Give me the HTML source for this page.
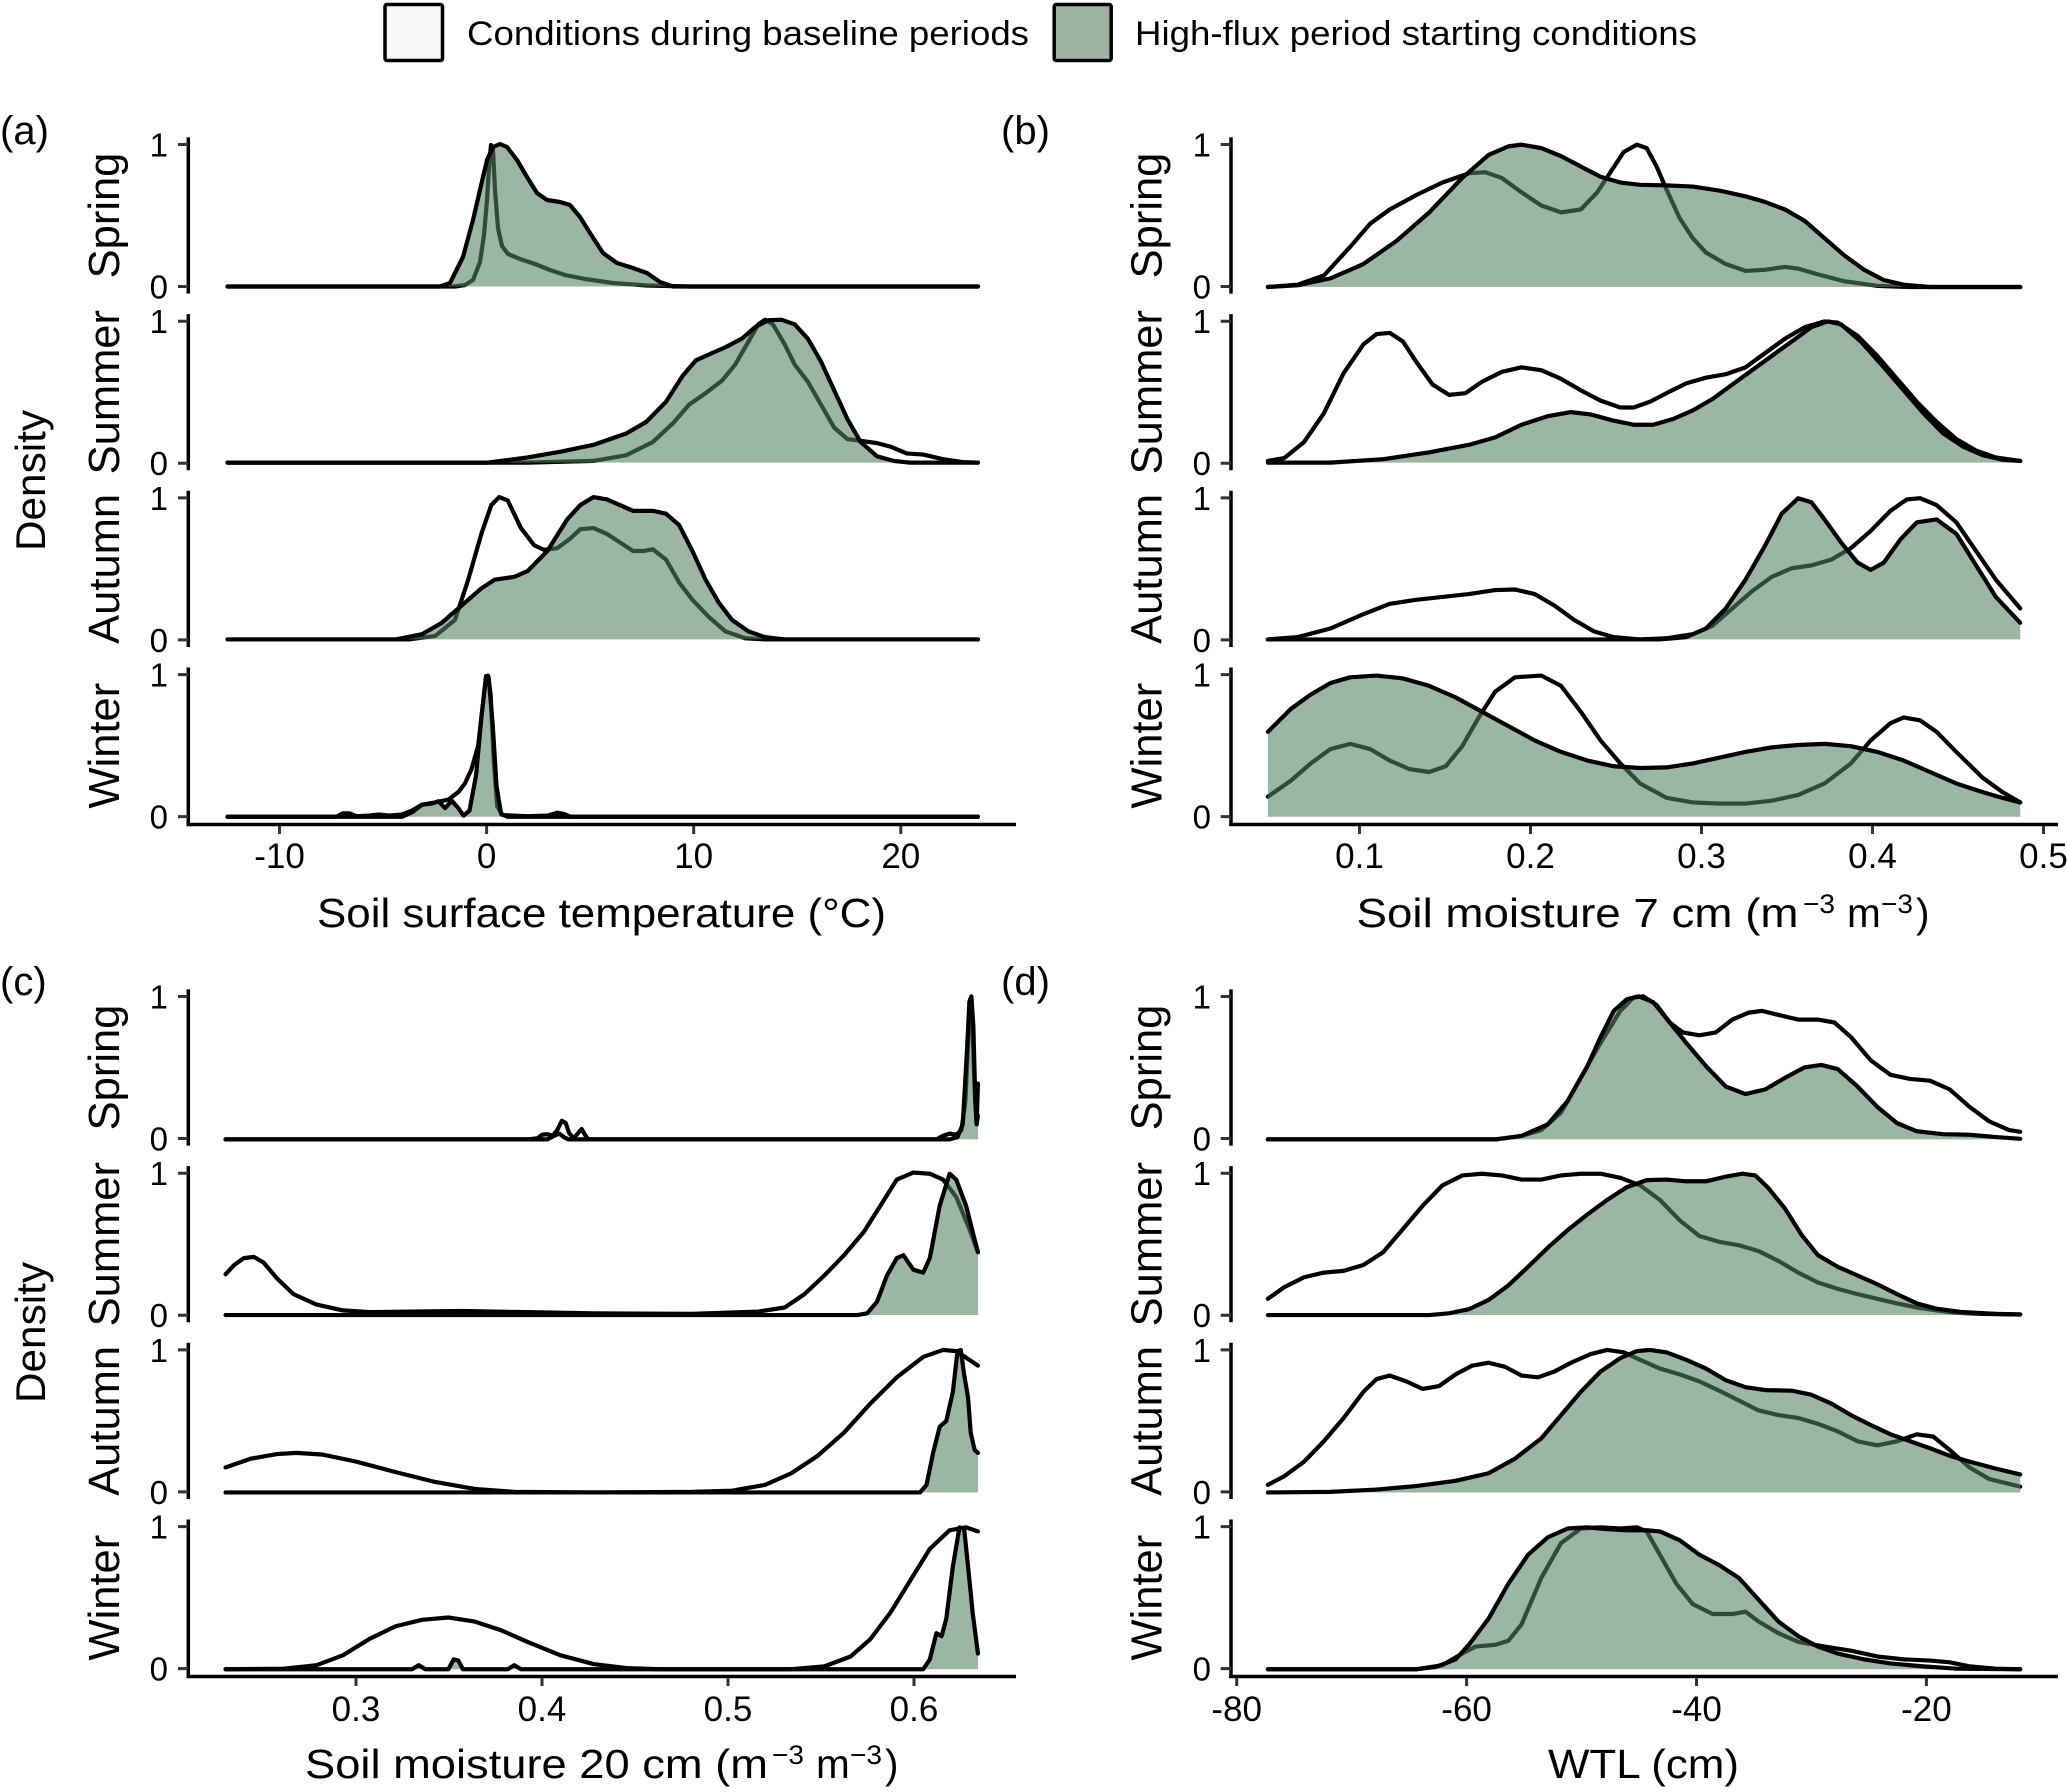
<!DOCTYPE html>
<html><head><meta charset="utf-8"><style>
html,body{margin:0;padding:0;background:#fff}
svg{display:block}
text{font-family:"Liberation Sans",Arial,sans-serif;fill:#000}
.c{fill:none;stroke:#000;stroke-width:4.2;stroke-linejoin:round;stroke-linecap:round;vector-effect:non-scaling-stroke}
.f{fill:rgb(84,130,98);fill-opacity:.58;stroke:none}
.ax{stroke:#000;stroke-width:3.5;fill:none}
.tk{stroke:#333;stroke-width:3;fill:none}
.yt{font-size:33px;text-anchor:end}
.xt{font-size:35px;text-anchor:middle}
.st{font-size:43.5px;text-anchor:middle}
</style></head><body>
<svg width="2067" height="1792" viewBox="0 0 2067 1792" xmlns="http://www.w3.org/2000/svg">
<rect width="2067" height="1792" fill="#fff"/>

<!-- Legend -->
<rect x="385" y="4.5" width="57.5" height="56" fill="#f7f7f7" stroke="#000" stroke-width="3.5" rx="2"/>
<text x="467" y="45" font-size="34" textLength="562" lengthAdjust="spacingAndGlyphs">Conditions during baseline periods</text>
<rect x="1054.2" y="4.5" width="57" height="56" fill="rgb(155,181,162)" stroke="#000" stroke-width="3.5" rx="2"/>
<text x="1135" y="45" font-size="34" textLength="562" lengthAdjust="spacingAndGlyphs">High-flux period starting conditions</text>

<!-- Panel labels -->
<text x="0" y="144" font-size="40">(a)</text>
<text x="1001" y="144" font-size="40">(b)</text>
<text x="0" y="995" font-size="40">(c)</text>
<text x="1001" y="995" font-size="40">(d)</text>

<!-- Density labels -->
<text transform="translate(45,480.5) rotate(-90)" font-size="42" text-anchor="middle" textLength="141" lengthAdjust="spacingAndGlyphs">Density</text>
<text transform="translate(45,1332.5) rotate(-90)" font-size="42" text-anchor="middle" textLength="141" lengthAdjust="spacingAndGlyphs">Density</text>

<!-- Strip labels left -->
<text class="st" transform="translate(119,215.5) rotate(-90)">Spring</text>
<text class="st" transform="translate(119,392.2) rotate(-90)">Summer</text>
<text class="st" transform="translate(119,568.9) rotate(-90)">Autumn</text>
<text class="st" transform="translate(119,745.6) rotate(-90)">Winter</text>
<text class="st" transform="translate(119,1067.5) rotate(-90)">Spring</text>
<text class="st" transform="translate(119,1244.2) rotate(-90)">Summer</text>
<text class="st" transform="translate(119,1420.9) rotate(-90)">Autumn</text>
<text class="st" transform="translate(119,1597.6) rotate(-90)">Winter</text>
<!-- Strip labels right -->
<text class="st" transform="translate(1161.5,215.5) rotate(-90)">Spring</text>
<text class="st" transform="translate(1161.5,392.2) rotate(-90)">Summer</text>
<text class="st" transform="translate(1161.5,568.9) rotate(-90)">Autumn</text>
<text class="st" transform="translate(1161.5,745.6) rotate(-90)">Winter</text>
<text class="st" transform="translate(1161.5,1067.5) rotate(-90)">Spring</text>
<text class="st" transform="translate(1161.5,1244.2) rotate(-90)">Summer</text>
<text class="st" transform="translate(1161.5,1420.9) rotate(-90)">Autumn</text>
<text class="st" transform="translate(1161.5,1597.6) rotate(-90)">Winter</text>

<!-- Y axes -->
<path class="ax" d="M188.3,137.4V293.6M188.3,314.1V470.3M188.3,490.8V647M188.3,667.5V826M188.3,989.4V1145.6M188.3,1166.1V1322.3M188.3,1342.8V1499M188.3,1519.5V1678
M1231,137.4V293.6M1231,314.1V470.3M1231,490.8V647M1231,667.5V826M1231,989.4V1145.6M1231,1166.1V1322.3M1231,1342.8V1499M1231,1519.5V1678"/>
<!-- Y ticks -->
<path class="tk" d="M178,144.5H188M178,286.5H188M178,321.2H188M178,463.2H188M178,497.9H188M178,639.9H188M178,674.6H188M178,816.6H188
M178,996.5H188M178,1138.5H188M178,1173.2H188M178,1315.2H188M178,1349.9H188M178,1491.9H188M178,1526.6H188M178,1668.6H188
M1220.7,144.5H1231M1220.7,286.5H1231M1220.7,321.2H1231M1220.7,463.2H1231M1220.7,497.9H1231M1220.7,639.9H1231M1220.7,674.6H1231M1220.7,816.6H1231
M1220.7,996.5H1231M1220.7,1138.5H1231M1220.7,1173.2H1231M1220.7,1315.2H1231M1220.7,1349.9H1231M1220.7,1491.9H1231M1220.7,1526.6H1231M1220.7,1668.6H1231"/>
<!-- X axes -->
<path class="ax" d="M186.5,824.5H1016M1229.2,824.5H2058M186.5,1676.5H1016M1229.2,1676.5H2058"/>
<path class="tk" d="M279.5,826V834M486.6,826V834M693.7,826V834M900.8,826V834
M1359.5,826V834M1530.5,826V834M1701.5,826V834M1872.5,826V834M2043.5,826V834
M356,1678V1686M542,1678V1686M728,1678V1686M914,1678V1686
M1236.7,1678V1686M1466.6,1678V1686M1696.5,1678V1686M1926.4,1678V1686"/>

<!-- Y tick labels -->
<g class="yt">
<text x="168" y="156.5">1</text><text x="168" y="298.5">0</text>
<text x="168" y="333.2">1</text><text x="168" y="475.2">0</text>
<text x="168" y="509.9">1</text><text x="168" y="651.9">0</text>
<text x="168" y="686.6">1</text><text x="168" y="828.6">0</text>
<text x="168" y="1008.5">1</text><text x="168" y="1150.5">0</text>
<text x="168" y="1185.2">1</text><text x="168" y="1327.2">0</text>
<text x="168" y="1361.9">1</text><text x="168" y="1503.9">0</text>
<text x="168" y="1538.6">1</text><text x="168" y="1680.6">0</text>
<text x="1211" y="156.5">1</text><text x="1211" y="298.5">0</text>
<text x="1211" y="333.2">1</text><text x="1211" y="475.2">0</text>
<text x="1211" y="509.9">1</text><text x="1211" y="651.9">0</text>
<text x="1211" y="686.6">1</text><text x="1211" y="828.6">0</text>
<text x="1211" y="1008.5">1</text><text x="1211" y="1150.5">0</text>
<text x="1211" y="1185.2">1</text><text x="1211" y="1327.2">0</text>
<text x="1211" y="1361.9">1</text><text x="1211" y="1503.9">0</text>
<text x="1211" y="1538.6">1</text><text x="1211" y="1680.6">0</text>
</g>
<!-- X tick labels -->
<g class="xt">
<text x="279.5" y="868">-10</text><text x="486.6" y="868">0</text><text x="693.7" y="868">10</text><text x="900.8" y="868">20</text>
<text x="1359.5" y="868">0.1</text><text x="1530.5" y="868">0.2</text><text x="1701.5" y="868">0.3</text><text x="1872.5" y="868">0.4</text><text x="2043.5" y="868">0.5</text>
<text x="356" y="1721">0.3</text><text x="542" y="1721">0.4</text><text x="728" y="1721">0.5</text><text x="914" y="1721">0.6</text>
<text x="1236.7" y="1721">-80</text><text x="1466.6" y="1721">-60</text><text x="1696.5" y="1721">-40</text><text x="1926.4" y="1721">-20</text>
</g>

<!-- Axis titles -->
<text x="317" y="927" font-size="40.5" textLength="569" lengthAdjust="spacingAndGlyphs">Soil surface temperature (°C)</text>

<text x="1356.5" y="927" font-size="40.5" textLength="442" lengthAdjust="spacingAndGlyphs">Soil moisture 7 cm (m</text>
<text x="1803" y="913" font-size="27" textLength="32" lengthAdjust="spacingAndGlyphs">−3</text>
<text x="1847" y="927" font-size="40.5">m</text>
<text x="1881" y="913" font-size="27" textLength="32" lengthAdjust="spacingAndGlyphs">−3</text>
<text x="1916" y="927" font-size="40.5">)</text>

<text x="305" y="1778" font-size="40.5" textLength="463" lengthAdjust="spacingAndGlyphs">Soil moisture 20 cm (m</text>
<text x="772" y="1764" font-size="27" textLength="32" lengthAdjust="spacingAndGlyphs">−3</text>
<text x="816" y="1778" font-size="40.5">m</text>
<text x="850" y="1764" font-size="27" textLength="32" lengthAdjust="spacingAndGlyphs">−3</text>
<text x="885" y="1778" font-size="40.5">)</text>

<text x="1548" y="1778" font-size="40.5" textLength="191" lengthAdjust="spacingAndGlyphs">WTL (cm)</text>

<!-- ===== Panel (a) ===== -->
<!-- Spring (orig coords) -->
<path class="c" d="M227.5,286.5 L455,286.5 L465,285 L473,280 L480,262 L484,235 L487,200 L489.5,160 L491,145 L493,150 L495,190 L498,228 L502,246 L508,254 L520,259 L535,264 L550,270 L565,275 L585,279 L613,283 L647,285.5 L690,286.5 L978,286.5"/>
<path class="f" d="M227.5,286.5 L440,286.5 L450,283 L463,257 L473,220 L480,190 L487,160 L493,147 L500,144 L507,147 L517,160 L527,177 L537,193 L547,200 L560,202 L570,205 L580,217 L590,233 L603,253 L617,263 L633,268 L647,273 L660,282 L673,286.5 L978,286.5 Z"/>
<path class="c" d="M227.5,286.5 L440,286.5 L450,283 L463,257 L473,220 L480,190 L487,160 L493,147 L500,144 L507,147 L517,160 L527,177 L537,193 L547,200 L560,202 L570,205 L580,217 L590,233 L603,253 L617,263 L633,268 L647,273 L660,282 L673,286.5 L978,286.5"/>

<g transform="matrix(0.65944,0,0,0.57398,0,0)">
<!-- Summer -->
<path class="c" d="M345,806 L800,806 L900,803 L950,793 L990,770 L1020,738 L1045,705 L1070,685 L1095,663 L1115,635 L1135,595 L1150,565 L1160,557 L1172,565 L1190,600 L1205,635 L1225,665 L1245,705 L1265,745 L1285,765 L1305,768 L1330,772 L1350,778 L1375,790 L1400,792 L1430,800 L1460,805 L1483,806"/>
<path class="f" d="M345,806 L740,806 L800,797 L850,787 L900,775 L950,755 L980,735 L1010,700 L1035,655 L1055,628 L1080,615 L1100,605 L1125,590 L1145,570 L1165,558 L1185,557 L1205,565 L1225,590 L1245,630 L1265,680 L1285,730 L1305,770 L1330,795 L1355,803 L1380,806 L1483,806 Z"/>
<path class="c" d="M345,806 L740,806 L800,797 L850,787 L900,775 L950,755 L980,735 L1010,700 L1035,655 L1055,628 L1080,615 L1100,605 L1125,590 L1145,570 L1165,558 L1185,557 L1205,565 L1225,590 L1245,630 L1265,680 L1285,730 L1305,770 L1330,795 L1355,803 L1380,806 L1483,806"/>
<!-- Autumn -->
<path class="c" d="M345,1114 L620,1114 L660,1108 L690,1080 L710,1010 L730,930 L745,880 L757,866 L770,872 L790,920 L810,950 L825,958 L845,955 L865,938 L880,922 L900,920 L920,930 L940,945 L960,960 L975,960 L990,957 L1010,975 L1030,1015 L1050,1045 L1075,1075 L1100,1100 L1130,1112 L1160,1114 L1483,1114"/>
<path class="f" d="M345,1114 L600,1114 L640,1105 L670,1085 L700,1055 L730,1025 L750,1010 L780,1005 L800,995 L830,960 L860,905 L880,880 L900,866 L920,870 L940,880 L960,890 L990,890 L1010,895 L1030,915 L1050,960 L1070,1010 L1090,1050 L1110,1080 L1135,1100 L1160,1110 L1190,1114 L1483,1114 Z"/>
<path class="c" d="M345,1114 L600,1114 L640,1105 L670,1085 L700,1055 L730,1025 L750,1010 L780,1005 L800,995 L830,960 L860,905 L880,880 L900,866 L920,870 L940,880 L960,890 L990,890 L1010,895 L1030,915 L1050,960 L1070,1010 L1090,1050 L1110,1080 L1135,1100 L1160,1110 L1190,1114 L1483,1114"/>
<!-- Winter -->
<path class="c" d="M345,1423 L510,1423 L520,1417 L530,1417 L540,1422 L560,1421 L575,1419 L590,1421 L610,1419 L625,1412 L640,1402 L660,1398 L680,1393 L695,1380 L705,1365 L715,1340 L725,1300 L732,1230 L737,1180 L740,1177 L744,1210 L749,1330 L754,1405 L762,1420 L800,1422 L830,1421 L845,1416 L855,1418 L865,1423 L1483,1423"/>
<path class="f" d="M345,1423 L610,1423 L625,1415 L640,1402 L655,1400 L665,1396 L675,1408 L685,1395 L695,1408 L703,1421 L712,1412 L722,1350 L730,1250 L737,1178 L741,1180 L747,1260 L753,1370 L760,1418 L770,1423 L1483,1423 Z"/>
<path class="c" d="M345,1423 L610,1423 L625,1415 L640,1402 L655,1400 L665,1396 L675,1408 L685,1395 L695,1408 L703,1421 L712,1412 L722,1350 L730,1250 L737,1178 L741,1180 L747,1260 L753,1370 L760,1418 L770,1423 L1483,1423"/>
</g>

<!-- ===== Panel (b) ===== -->
<g transform="matrix(0.6588,0,0,0.57398,1034,0)">
<!-- Spring -->
<path class="c" d="M355,500 L400,496 L440,480 L480,430 L510,390 L540,365 L580,340 L620,318 L660,302 L685,300 L710,310 L740,335 L770,358 L800,370 L830,365 L855,335 L875,300 L895,265 L915,252 L930,258 L945,290 L960,330 L980,380 L1000,415 L1020,440 L1050,460 L1080,472 L1110,470 L1140,465 L1160,468 L1190,478 L1230,490 L1280,498 L1330,500 L1497,500"/>
<path class="f" d="M355,500 L400,497 L450,485 L500,460 L550,420 L600,370 L650,310 L690,270 L720,255 L740,252 L770,258 L800,272 L830,290 L860,308 L890,318 L920,322 L960,323 L1000,325 L1040,332 L1080,342 L1110,352 L1140,365 L1170,385 L1200,415 L1230,445 L1260,470 L1290,488 L1320,496 L1360,500 L1497,500 Z"/>
<path class="c" d="M355,500 L400,497 L450,485 L500,460 L550,420 L600,370 L650,310 L690,270 L720,255 L740,252 L770,258 L800,272 L830,290 L860,308 L890,318 L920,322 L960,323 L1000,325 L1040,332 L1080,342 L1110,352 L1140,365 L1170,385 L1200,415 L1230,445 L1260,470 L1290,488 L1320,496 L1360,500 L1497,500"/>
<!-- Summer -->
<path class="c" d="M355,803 L380,798 L410,770 L440,720 L470,650 L500,600 L520,582 L540,580 L560,595 L580,630 L605,670 L630,688 L655,685 L680,665 L710,648 L740,640 L770,645 L800,660 L830,680 L860,698 L890,710 L910,710 L935,700 L960,685 L990,668 L1020,658 L1050,652 L1080,640 L1110,615 L1140,590 L1170,570 L1200,560 L1220,562 L1250,585 L1280,620 L1310,660 L1340,700 L1370,735 L1400,765 L1430,785 L1460,797 L1497,803"/>
<path class="f" d="M355,806 L450,806 L530,800 L600,788 L660,775 L700,762 L740,740 L780,725 L815,718 L845,722 L880,733 L910,740 L940,740 L970,730 L1000,715 L1030,695 L1060,670 L1090,645 L1120,620 L1150,595 L1180,570 L1205,560 L1225,565 L1255,595 L1290,640 L1320,680 L1350,720 L1380,755 L1410,778 L1440,793 L1470,801 L1497,803 L1497,806 Z"/>
<path class="c" d="M355,806 L450,806 L530,800 L600,788 L660,775 L700,762 L740,740 L780,725 L815,718 L845,722 L880,733 L910,740 L940,740 L970,730 L1000,715 L1030,695 L1060,670 L1090,645 L1120,620 L1150,595 L1180,570 L1205,560 L1225,565 L1255,595 L1290,640 L1320,680 L1350,720 L1380,755 L1410,778 L1440,793 L1470,801 L1497,803"/>
<!-- Autumn -->
<path class="c" d="M355,1114 L400,1110 L450,1095 L500,1070 L540,1052 L580,1045 L620,1040 L660,1035 L700,1028 L730,1027 L760,1035 L790,1055 L820,1080 L850,1100 L880,1110 L920,1114 L960,1112 L1000,1105 L1030,1090 L1060,1060 L1090,1030 L1120,1005 L1150,990 L1180,985 L1210,975 L1240,955 L1270,925 L1300,890 L1325,870 L1345,868 L1370,880 L1400,910 L1430,960 L1460,1010 L1497,1060"/>
<path class="f" d="M355,1114 L950,1114 L990,1110 L1020,1095 L1050,1060 L1080,1010 L1110,950 L1135,895 L1160,868 L1180,875 L1200,905 L1225,945 L1250,980 L1270,993 L1290,980 L1315,940 L1340,910 L1370,905 L1400,930 L1430,985 L1460,1040 L1497,1085 L1497,1114 Z"/>
<path class="c" d="M355,1114 L950,1114 L990,1110 L1020,1095 L1050,1060 L1080,1010 L1110,950 L1135,895 L1160,868 L1180,875 L1200,905 L1225,945 L1250,980 L1270,993 L1290,980 L1315,940 L1340,910 L1370,905 L1400,930 L1430,985 L1460,1040 L1497,1085"/>
<!-- Winter -->
<path class="c" d="M355,1388 L390,1360 L420,1330 L450,1305 L480,1296 L510,1305 L540,1325 L570,1340 L600,1345 L625,1335 L650,1300 L675,1250 L700,1205 L730,1180 L770,1177 L800,1195 L830,1240 L860,1290 L890,1330 L920,1365 L960,1390 L1000,1398 L1040,1400 L1080,1400 L1120,1395 L1160,1385 L1200,1365 L1240,1330 L1270,1290 L1300,1260 L1320,1250 L1345,1255 L1370,1275 L1400,1310 L1440,1355 L1470,1380 L1497,1398"/>
<path class="f" d="M355,1423 L355,1275 L390,1235 L420,1210 L450,1190 L480,1180 L520,1177 L560,1182 L600,1195 L640,1215 L680,1240 L720,1265 L760,1290 L800,1310 L840,1325 L880,1335 L920,1338 L960,1337 L1000,1330 L1040,1320 L1080,1310 L1120,1302 L1160,1298 L1200,1296 L1240,1300 L1280,1310 L1320,1325 L1360,1345 L1400,1365 L1440,1380 L1470,1390 L1497,1398 L1497,1423 Z"/>
<path class="c" d="M355,1275 L390,1235 L420,1210 L450,1190 L480,1180 L520,1177 L560,1182 L600,1195 L640,1215 L680,1240 L720,1265 L760,1290 L800,1310 L840,1325 L880,1335 L920,1338 L960,1337 L1000,1330 L1040,1320 L1080,1310 L1120,1302 L1160,1298 L1200,1296 L1240,1300 L1280,1310 L1320,1325 L1360,1345 L1400,1365 L1440,1380 L1470,1390 L1497,1398"/>
</g>

<!-- ===== Panel (c) ===== -->
<g transform="matrix(0.65944,0,0,0.58163,0,880)">
<!-- Spring -->
<path class="c" d="M342,446 L800,446 L815,444 L822,438 L830,437 L838,440 L845,430 L852,414 L858,418 L863,435 L870,444 L876,436 L882,428 L887,438 L892,446 L1420,446 L1430,440 L1440,436 L1450,438 L1458,430 L1464,380 L1468,280 L1471,205 L1474,230 L1478,360 L1481,420 L1483,405"/>
<path class="f" d="M342,446 L1440,446 L1452,442 L1460,420 L1466,300 L1470,210 L1473,200 L1476,250 L1479,380 L1481,420 L1483,350 L1483,446 Z"/>
<path class="c" d="M342,446 L830,446 L840,440 L848,436 L855,442 L862,446 L1440,446 L1452,442 L1460,420 L1466,300 L1470,210 L1473,200 L1476,250 L1479,380 L1481,420 L1483,350"/>
<!-- Summer -->
<path class="c" d="M342,678 L355,662 L370,650 L385,648 L400,658 L420,685 L445,712 L480,730 L520,740 L560,743 L700,741 L800,743 L900,745 L1050,746 L1150,742 L1190,735 L1220,712 L1250,680 L1280,645 L1310,605 L1335,560 L1360,515 L1385,503 L1410,505 L1430,515 L1450,545 L1470,600 L1483,640"/>
<path class="f" d="M342,748 L1300,748 L1315,745 L1330,725 L1345,680 L1360,650 L1370,645 L1385,670 L1400,675 L1410,650 L1425,560 L1440,505 L1450,515 L1465,560 L1475,605 L1483,640 L1483,748 Z"/>
<path class="c" d="M342,748 L1300,748 L1315,745 L1330,725 L1345,680 L1360,650 L1370,645 L1385,670 L1400,675 L1410,650 L1425,560 L1440,505 L1450,515 L1465,560 L1475,605 L1483,640"/>
<!-- Autumn -->
<path class="c" d="M342,1010 L380,995 L420,987 L450,985 L490,988 L540,1000 L600,1018 L660,1035 L720,1047 L780,1052 L900,1053 L1050,1052 L1110,1050 L1160,1040 L1200,1020 L1240,990 L1280,950 L1320,900 L1360,855 L1400,820 L1430,808 L1450,810 L1470,825 L1483,835"/>
<path class="f" d="M342,1053 L1395,1053 L1405,1040 L1415,985 L1425,940 L1435,930 L1445,880 L1452,810 L1457,808 L1462,850 L1468,890 L1472,950 L1478,980 L1483,985 L1483,1053 Z"/>
<path class="c" d="M342,1053 L1395,1053 L1405,1040 L1415,985 L1425,940 L1435,930 L1445,880 L1452,810 L1457,808 L1462,850 L1468,890 L1472,950 L1478,980 L1483,985"/>
<!-- Winter -->
<path class="c" d="M342,1357 L430,1356 L480,1350 L520,1333 L560,1305 L600,1283 L640,1272 L680,1268 L720,1275 L760,1290 L800,1310 L850,1333 L900,1348 L950,1355 L1000,1357 L1200,1357 L1250,1352 L1290,1335 L1320,1305 L1350,1260 L1380,1205 L1410,1150 L1440,1118 L1465,1113 L1483,1120"/>
<path class="f" d="M342,1357 L625,1357 L635,1350 L645,1357 L680,1357 L688,1340 L695,1342 L702,1357 L770,1357 L780,1350 L790,1357 L1400,1357 L1410,1340 L1420,1295 L1428,1300 L1435,1270 L1445,1180 L1455,1113 L1462,1115 L1468,1180 L1475,1260 L1483,1330 L1483,1357 Z"/>
<path class="c" d="M342,1357 L625,1357 L635,1350 L645,1357 L680,1357 L688,1340 L695,1342 L702,1357 L770,1357 L780,1350 L790,1357 L1400,1357 L1410,1340 L1420,1295 L1428,1300 L1435,1270 L1445,1180 L1455,1113 L1462,1115 L1468,1180 L1475,1260 L1483,1330"/>
</g>

<!-- ===== Panel (d) ===== -->
<g transform="matrix(0.6588,0,0,0.58163,1034,880)">
<!-- Spring -->
<path class="c" d="M355,446 L700,446 L740,440 L770,430 L800,400 L830,340 L860,280 L890,225 L910,202 L925,200 L945,215 L965,245 L985,262 L1010,267 L1035,262 L1060,240 L1085,228 L1105,225 L1130,232 L1160,240 L1190,240 L1215,245 L1240,270 L1270,310 L1300,335 L1330,342 L1360,345 L1390,360 L1420,390 L1450,415 L1480,430 L1497,433"/>
<path class="f" d="M355,446 L700,446 L740,440 L780,420 L810,380 L840,320 L860,270 L880,225 L900,205 L918,200 L940,210 L965,245 L990,280 L1020,320 L1050,355 L1080,368 L1110,360 L1140,340 L1170,322 L1195,318 L1220,325 L1250,355 L1280,390 L1310,418 L1340,432 L1380,437 L1420,438 L1460,442 L1497,445 L1497,446 Z"/>
<path class="c" d="M355,446 L700,446 L740,440 L780,420 L810,380 L840,320 L860,270 L880,225 L900,205 L918,200 L940,210 L965,245 L990,280 L1020,320 L1050,355 L1080,368 L1110,360 L1140,340 L1170,322 L1195,318 L1220,325 L1250,355 L1280,390 L1310,418 L1340,432 L1380,437 L1420,438 L1460,442 L1497,445"/>
<!-- Summer -->
<path class="c" d="M355,720 L380,700 L410,683 L440,675 L470,672 L500,662 L530,640 L560,600 L590,560 L620,525 L650,508 L680,505 L710,508 L740,515 L770,515 L800,508 L830,505 L860,505 L890,512 L920,525 L950,550 L980,585 L1010,612 L1040,622 L1070,628 L1100,638 L1130,655 L1160,675 L1190,692 L1220,703 L1250,712 L1280,720 L1310,728 L1340,735 L1370,740 L1400,744 L1440,746 L1497,747"/>
<path class="f" d="M355,748 L600,748 L630,745 L660,738 L690,722 L720,697 L750,665 L780,632 L810,602 L840,575 L870,550 L900,528 L930,516 L960,515 L990,518 L1020,518 L1050,510 L1075,505 L1095,508 L1115,530 L1140,565 L1165,610 L1190,645 L1220,665 L1250,680 L1280,695 L1310,712 L1340,728 L1370,737 L1410,743 L1460,746 L1497,747 L1497,748 Z"/>
<path class="c" d="M355,748 L600,748 L630,745 L660,738 L690,722 L720,697 L750,665 L780,632 L810,602 L840,575 L870,550 L900,528 L930,516 L960,515 L990,518 L1020,518 L1050,510 L1075,505 L1095,508 L1115,530 L1140,565 L1165,610 L1190,645 L1220,665 L1250,680 L1280,695 L1310,712 L1340,728 L1370,737 L1410,743 L1460,746 L1497,747"/>
<!-- Autumn -->
<path class="c" d="M355,1040 L380,1025 L410,1000 L440,965 L470,925 L500,880 L520,858 L540,852 L565,862 L590,875 L615,870 L640,850 L665,835 L690,830 L715,837 L740,852 L765,855 L790,845 L815,830 L845,815 L870,808 L895,812 L920,825 L950,840 L980,850 L1010,862 L1040,878 L1070,895 L1100,912 L1130,920 L1160,925 L1190,935 L1220,948 L1250,965 L1280,972 L1310,965 L1340,953 L1365,957 L1390,980 L1420,1010 L1450,1030 L1497,1043"/>
<path class="f" d="M355,1053 L450,1052 L520,1048 L580,1042 L640,1033 L690,1020 L730,995 L770,960 L800,920 L830,880 L860,845 L890,822 L915,810 L935,808 L960,812 L990,825 L1020,840 L1050,860 L1080,872 L1110,877 L1150,878 L1180,885 L1210,900 L1240,920 L1270,937 L1300,953 L1330,965 L1360,977 L1390,990 L1420,1000 L1460,1012 L1497,1022 L1497,1053 Z"/>
<path class="c" d="M355,1053 L450,1052 L520,1048 L580,1042 L640,1033 L690,1020 L730,995 L770,960 L800,920 L830,880 L860,845 L890,822 L915,810 L935,808 L960,812 L990,825 L1020,840 L1050,860 L1080,872 L1110,877 L1150,878 L1180,885 L1210,900 L1240,920 L1270,937 L1300,953 L1330,965 L1360,977 L1390,990 L1420,1000 L1460,1012 L1497,1022"/>
<!-- Winter -->
<path class="c" d="M355,1357 L580,1357 L620,1350 L650,1330 L670,1318 L700,1315 L720,1308 L740,1280 L770,1200 L800,1140 L830,1115 L860,1113 L890,1115 L915,1113 L930,1120 L950,1160 L975,1210 L1000,1245 L1030,1262 L1060,1262 L1080,1258 L1100,1275 L1130,1295 L1160,1310 L1200,1318 L1240,1325 L1280,1335 L1320,1340 L1360,1342 L1390,1345 L1420,1352 L1460,1356 L1497,1357"/>
<path class="f" d="M355,1357 L580,1357 L610,1353 L640,1340 L660,1315 L690,1270 L720,1210 L750,1160 L780,1130 L810,1115 L840,1113 L870,1116 L900,1118 L930,1118 L950,1120 L980,1135 L1010,1160 L1040,1178 L1070,1200 L1090,1225 L1110,1250 L1130,1275 L1160,1300 L1190,1318 L1220,1330 L1260,1340 L1300,1347 L1350,1352 L1400,1356 L1497,1357 Z"/>
<path class="c" d="M355,1357 L580,1357 L610,1353 L640,1340 L660,1315 L690,1270 L720,1210 L750,1160 L780,1130 L810,1115 L840,1113 L870,1116 L900,1118 L930,1118 L950,1120 L980,1135 L1010,1160 L1040,1178 L1070,1200 L1090,1225 L1110,1250 L1130,1275 L1160,1300 L1190,1318 L1220,1330 L1260,1340 L1300,1347 L1350,1352 L1400,1356 L1497,1357"/>
</g>
</svg>
</body></html>
